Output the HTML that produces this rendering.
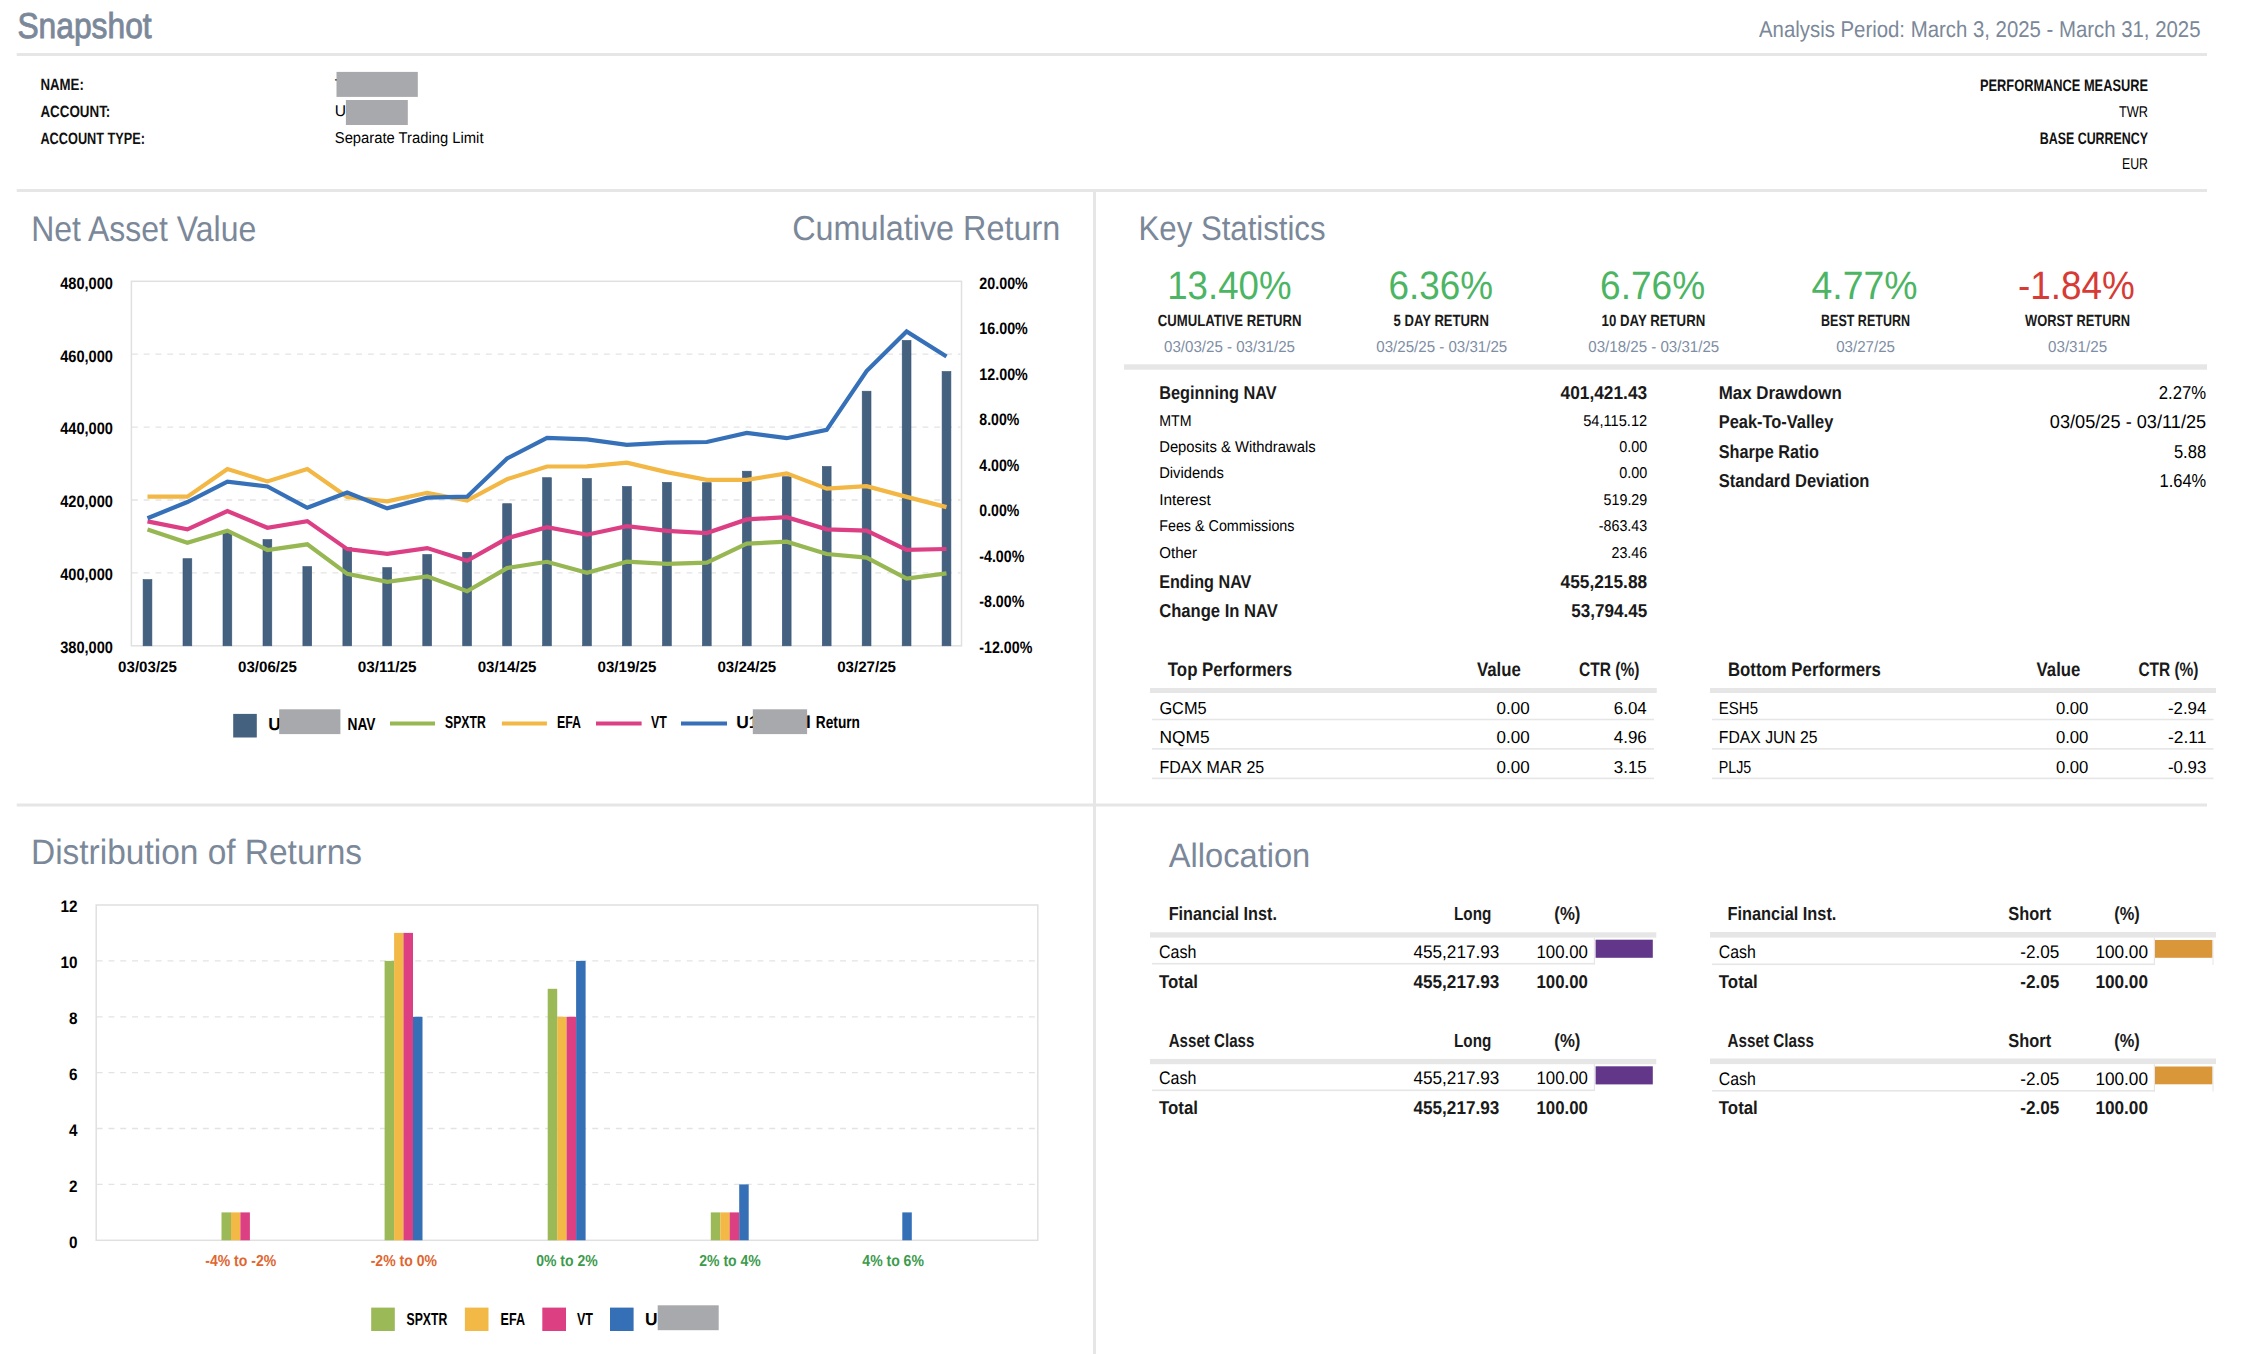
<!DOCTYPE html>
<html><head><meta charset="utf-8"><title>Snapshot</title>
<style>
html,body{margin:0;padding:0;background:#fff;}
body{width:2254px;height:1354px;overflow:hidden;}
svg{display:block;font-family:"Liberation Sans", Arial, sans-serif;}
</style></head><body>
<svg width="2254" height="1354" viewBox="0 0 2254 1354" text-rendering="geometricPrecision">
<rect width="2254" height="1354" fill="#fff"/>
<text x="17.4" y="37.8" font-size="35.94" fill="#7b8899" textLength="134.3" lengthAdjust="spacingAndGlyphs" stroke="#7b8899" stroke-width="0.9">Snapshot</text>
<text x="2200.5" y="37.3" font-size="22.75" fill="#7b8899" text-anchor="end" textLength="441.5" lengthAdjust="spacingAndGlyphs">Analysis Period: March 3, 2025 - March 31, 2025</text>
<rect x="16.7" y="53.0" width="2190.3" height="3.0" fill="#e6e6e6"/>
<text x="40.4" y="90.4" font-size="16.38" font-weight="bold" fill="#111" textLength="43.4" lengthAdjust="spacingAndGlyphs">NAME:</text>
<text x="40.4" y="116.7" font-size="16.38" font-weight="bold" fill="#111" textLength="69.9" lengthAdjust="spacingAndGlyphs">ACCOUNT:</text>
<text x="40.4" y="143.7" font-size="16.38" font-weight="bold" fill="#111" textLength="104.7" lengthAdjust="spacingAndGlyphs">ACCOUNT TYPE:</text>
<text x="334.8" y="89.7" font-size="15.65">T</text>
<rect x="336.5" y="71.9" width="81.3" height="25.0" fill="#a8a9ad"/>
<text x="334.8" y="116.0" font-size="15.65">U</text>
<rect x="345.9" y="100.0" width="61.9" height="25.0" fill="#a8a9ad"/>
<text x="334.8" y="143.0" font-size="15.65" textLength="148.7" lengthAdjust="spacingAndGlyphs">Separate Trading Limit</text>
<text x="2148.0" y="90.6" font-size="16.67" font-weight="bold" fill="#111" text-anchor="end" textLength="168.0" lengthAdjust="spacingAndGlyphs">PERFORMANCE MEASURE</text>
<text x="2148.0" y="117.0" font-size="15.65" text-anchor="end" textLength="29.0" lengthAdjust="spacingAndGlyphs">TWR</text>
<text x="2148.0" y="143.5" font-size="16.67" font-weight="bold" fill="#111" text-anchor="end" textLength="108.2" lengthAdjust="spacingAndGlyphs">BASE CURRENCY</text>
<text x="2148.0" y="169.0" font-size="15.65" text-anchor="end" textLength="26.0" lengthAdjust="spacingAndGlyphs">EUR</text>
<rect x="16.7" y="189.0" width="2190.3" height="3.0" fill="#e6e6e6"/>
<rect x="1093.0" y="190.0" width="3.0" height="1164.0" fill="#e6e6e6"/>
<rect x="16.7" y="803.5" width="2190.3" height="3.0" fill="#e6e6e6"/>
<text x="31.2" y="240.9" font-size="35.51" fill="#7b8899" textLength="225.0" lengthAdjust="spacingAndGlyphs">Net Asset Value</text>
<text x="1060.2" y="239.9" font-size="34.78" fill="#7b8899" text-anchor="end" textLength="268.0" lengthAdjust="spacingAndGlyphs">Cumulative Return</text>
<rect x="131.4" y="281.3" width="830.1" height="364.49999999999994" fill="none" stroke="#e0e0e0" stroke-width="1.5"/>
<line x1="131.9" y1="354.2" x2="960.5" y2="354.2" stroke="#e3e3e3" stroke-width="1.3" stroke-dasharray="5.9,5.9"/>
<line x1="131.9" y1="427.1" x2="960.5" y2="427.1" stroke="#e3e3e3" stroke-width="1.3" stroke-dasharray="5.9,5.9"/>
<line x1="131.9" y1="500.0" x2="960.5" y2="500.0" stroke="#e3e3e3" stroke-width="1.3" stroke-dasharray="5.9,5.9"/>
<line x1="131.9" y1="572.9" x2="960.5" y2="572.9" stroke="#e3e3e3" stroke-width="1.3" stroke-dasharray="5.9,5.9"/>
<text x="113.0" y="288.6" font-size="16.67" font-weight="bold" fill="#000" text-anchor="end" textLength="52.8" lengthAdjust="spacingAndGlyphs">480,000</text>
<text x="113.0" y="361.5" font-size="16.67" font-weight="bold" fill="#000" text-anchor="end" textLength="52.8" lengthAdjust="spacingAndGlyphs">460,000</text>
<text x="113.0" y="434.4" font-size="16.67" font-weight="bold" fill="#000" text-anchor="end" textLength="52.8" lengthAdjust="spacingAndGlyphs">440,000</text>
<text x="113.0" y="507.3" font-size="16.67" font-weight="bold" fill="#000" text-anchor="end" textLength="52.8" lengthAdjust="spacingAndGlyphs">420,000</text>
<text x="113.0" y="580.2" font-size="16.67" font-weight="bold" fill="#000" text-anchor="end" textLength="52.8" lengthAdjust="spacingAndGlyphs">400,000</text>
<text x="113.0" y="653.1" font-size="16.67" font-weight="bold" fill="#000" text-anchor="end" textLength="52.8" lengthAdjust="spacingAndGlyphs">380,000</text>
<text x="979.3" y="288.5" font-size="16.67" font-weight="bold" fill="#000" textLength="48.5" lengthAdjust="spacingAndGlyphs">20.00%</text>
<text x="979.3" y="334.1" font-size="16.67" font-weight="bold" fill="#000" textLength="48.5" lengthAdjust="spacingAndGlyphs">16.00%</text>
<text x="979.3" y="379.6" font-size="16.67" font-weight="bold" fill="#000" textLength="48.5" lengthAdjust="spacingAndGlyphs">12.00%</text>
<text x="979.3" y="425.2" font-size="16.67" font-weight="bold" fill="#000" textLength="40.0" lengthAdjust="spacingAndGlyphs">8.00%</text>
<text x="979.3" y="470.7" font-size="16.67" font-weight="bold" fill="#000" textLength="40.0" lengthAdjust="spacingAndGlyphs">4.00%</text>
<text x="979.3" y="516.3" font-size="16.67" font-weight="bold" fill="#000" textLength="40.0" lengthAdjust="spacingAndGlyphs">0.00%</text>
<text x="979.3" y="561.9" font-size="16.67" font-weight="bold" fill="#000" textLength="45.0" lengthAdjust="spacingAndGlyphs">-4.00%</text>
<text x="979.3" y="607.4" font-size="16.67" font-weight="bold" fill="#000" textLength="45.0" lengthAdjust="spacingAndGlyphs">-8.00%</text>
<text x="979.3" y="653.0" font-size="16.67" font-weight="bold" fill="#000" textLength="53.0" lengthAdjust="spacingAndGlyphs">-12.00%</text>
<rect x="143.1" y="579.6" width="8.8" height="66.2" fill="#44617f" stroke="#3b5677" stroke-width="0.6"/>
<rect x="183.0" y="558.7" width="8.8" height="87.1" fill="#44617f" stroke="#3b5677" stroke-width="0.6"/>
<rect x="223.0" y="532.3" width="8.8" height="113.5" fill="#44617f" stroke="#3b5677" stroke-width="0.6"/>
<rect x="263.0" y="539.6" width="8.8" height="106.2" fill="#44617f" stroke="#3b5677" stroke-width="0.6"/>
<rect x="302.9" y="566.6" width="8.8" height="79.2" fill="#44617f" stroke="#3b5677" stroke-width="0.6"/>
<rect x="342.9" y="547.6" width="8.8" height="98.2" fill="#44617f" stroke="#3b5677" stroke-width="0.6"/>
<rect x="382.8" y="567.6" width="8.8" height="78.2" fill="#44617f" stroke="#3b5677" stroke-width="0.6"/>
<rect x="422.8" y="554.5" width="8.8" height="91.3" fill="#44617f" stroke="#3b5677" stroke-width="0.6"/>
<rect x="462.7" y="552.3" width="8.8" height="93.5" fill="#44617f" stroke="#3b5677" stroke-width="0.6"/>
<rect x="502.7" y="503.7" width="8.8" height="142.1" fill="#44617f" stroke="#3b5677" stroke-width="0.6"/>
<rect x="542.6" y="477.7" width="8.8" height="168.1" fill="#44617f" stroke="#3b5677" stroke-width="0.6"/>
<rect x="582.6" y="478.5" width="8.8" height="167.3" fill="#44617f" stroke="#3b5677" stroke-width="0.6"/>
<rect x="622.5" y="486.5" width="8.8" height="159.3" fill="#44617f" stroke="#3b5677" stroke-width="0.6"/>
<rect x="662.5" y="482.4" width="8.8" height="163.4" fill="#44617f" stroke="#3b5677" stroke-width="0.6"/>
<rect x="702.4" y="482.7" width="8.8" height="163.1" fill="#44617f" stroke="#3b5677" stroke-width="0.6"/>
<rect x="742.4" y="471.2" width="8.8" height="174.6" fill="#44617f" stroke="#3b5677" stroke-width="0.6"/>
<rect x="782.3" y="476.7" width="8.8" height="169.1" fill="#44617f" stroke="#3b5677" stroke-width="0.6"/>
<rect x="822.3" y="466.5" width="8.8" height="179.3" fill="#44617f" stroke="#3b5677" stroke-width="0.6"/>
<rect x="862.2" y="391.2" width="8.8" height="254.6" fill="#44617f" stroke="#3b5677" stroke-width="0.6"/>
<rect x="902.2" y="340.4" width="8.8" height="305.4" fill="#44617f" stroke="#3b5677" stroke-width="0.6"/>
<rect x="942.1" y="371.5" width="8.8" height="274.3" fill="#44617f" stroke="#3b5677" stroke-width="0.6"/>
<polyline points="147.5,529.4 187.4,542.7 227.4,530.7 267.4,550.0 307.3,544.3 347.2,573.9 387.2,581.8 427.2,576.4 467.1,591.3 507.1,568.1 547.0,561.8 587.0,572.8 626.9,561.7 666.9,563.9 706.8,562.6 746.8,543.6 786.7,541.7 826.7,554.0 866.6,557.6 906.6,578.5 946.5,573.4" fill="none" stroke="#97b753" stroke-width="4.2" stroke-linejoin="miter" stroke-miterlimit="4" stroke-linecap="butt"/>
<polyline points="147.5,496.7 187.4,496.7 227.4,469.0 267.4,481.4 307.3,469.0 347.2,497.0 387.2,501.4 427.2,492.8 467.1,500.5 507.1,479.2 547.0,466.5 587.0,466.4 626.9,462.6 666.9,472.1 706.8,479.8 746.8,479.8 786.7,473.4 826.7,488.6 866.6,486.1 906.6,496.9 946.5,507.1" fill="none" stroke="#f2b744" stroke-width="4.2" stroke-linejoin="miter" stroke-miterlimit="4" stroke-linecap="butt"/>
<polyline points="147.5,521.4 187.4,529.4 227.4,511.0 267.4,527.8 307.3,521.1 347.2,549.1 387.2,553.8 427.2,548.1 467.1,560.8 507.1,538.3 547.0,527.2 587.0,534.7 626.9,526.1 666.9,530.9 706.8,533.1 746.8,519.4 786.7,517.2 826.7,529.3 866.6,530.6 906.6,549.9 946.5,549.0" fill="none" stroke="#dc3f84" stroke-width="4.2" stroke-linejoin="miter" stroke-miterlimit="4" stroke-linecap="butt"/>
<polyline points="147.5,518.3 187.4,502.0 227.4,481.7 267.4,486.5 307.3,507.8 347.2,492.5 387.2,508.4 427.2,497.6 467.1,496.7 507.1,458.5 547.0,437.9 587.0,439.4 626.9,444.8 666.9,442.6 706.8,442.0 746.8,433.0 786.7,438.2 826.7,429.9 866.6,371.1 906.6,331.5 946.5,356.5" fill="none" stroke="#3570b8" stroke-width="4.2" stroke-linejoin="miter" stroke-miterlimit="4" stroke-linecap="butt"/>
<text x="147.5" y="672.3" font-size="15.22" font-weight="bold" fill="#000" text-anchor="middle" textLength="58.8" lengthAdjust="spacingAndGlyphs">03/03/25</text>
<text x="267.4" y="672.3" font-size="15.22" font-weight="bold" fill="#000" text-anchor="middle" textLength="58.8" lengthAdjust="spacingAndGlyphs">03/06/25</text>
<text x="387.2" y="672.3" font-size="15.22" font-weight="bold" fill="#000" text-anchor="middle" textLength="58.8" lengthAdjust="spacingAndGlyphs">03/11/25</text>
<text x="507.1" y="672.3" font-size="15.22" font-weight="bold" fill="#000" text-anchor="middle" textLength="58.8" lengthAdjust="spacingAndGlyphs">03/14/25</text>
<text x="626.9" y="672.3" font-size="15.22" font-weight="bold" fill="#000" text-anchor="middle" textLength="58.8" lengthAdjust="spacingAndGlyphs">03/19/25</text>
<text x="746.8" y="672.3" font-size="15.22" font-weight="bold" fill="#000" text-anchor="middle" textLength="58.8" lengthAdjust="spacingAndGlyphs">03/24/25</text>
<text x="866.6" y="672.3" font-size="15.22" font-weight="bold" fill="#000" text-anchor="middle" textLength="58.8" lengthAdjust="spacingAndGlyphs">03/27/25</text>
<rect x="233.2" y="713.9" width="23.6" height="23.6" fill="#44617f"/>
<text x="268.3" y="730.0" font-size="17.39" font-weight="bold" fill="#000">U1</text>
<rect x="279.2" y="709.3" width="61.2" height="24.8" fill="#a8a9ad"/>
<text x="347.5" y="730.0" font-size="17.39" font-weight="bold" fill="#000" textLength="28.0" lengthAdjust="spacingAndGlyphs">NAV</text>
<rect x="390.0" y="721.5" width="45.0" height="4.0" fill="#97b753"/>
<text x="445.0" y="728.3" font-size="17.39" font-weight="bold" fill="#000" textLength="40.7" lengthAdjust="spacingAndGlyphs">SPXTR</text>
<rect x="501.9" y="721.5" width="45.0" height="4.0" fill="#f2b744"/>
<text x="557.0" y="728.3" font-size="17.39" font-weight="bold" fill="#000" textLength="24.0" lengthAdjust="spacingAndGlyphs">EFA</text>
<rect x="596.0" y="721.5" width="45.6" height="4.0" fill="#dc3f84"/>
<text x="651.0" y="728.3" font-size="17.39" font-weight="bold" fill="#000" textLength="15.8" lengthAdjust="spacingAndGlyphs">VT</text>
<rect x="681.0" y="721.5" width="46.0" height="4.0" fill="#3570b8"/>
<text x="736.3" y="728.3" font-size="17.39" font-weight="bold" fill="#000">U1</text>
<rect x="752.8" y="709.3" width="54.3" height="24.8" fill="#a8a9ad"/>
<text x="806.0" y="728.3" font-size="17.39" font-weight="bold" fill="#000">l</text>
<text x="815.8" y="728.3" font-size="17.39" font-weight="bold" fill="#000" textLength="44.2" lengthAdjust="spacingAndGlyphs">Return</text>
<text x="1138.6" y="240.0" font-size="34.20" fill="#7b8899" textLength="186.9" lengthAdjust="spacingAndGlyphs">Key Statistics</text>
<text x="1167.2" y="299.0" font-size="39.71" fill="#4cb564" textLength="124.3" lengthAdjust="spacingAndGlyphs">13.40%</text>
<text x="1157.8" y="326.2" font-size="16.23" font-weight="bold" fill="#1a1a1a" textLength="143.7" lengthAdjust="spacingAndGlyphs">CUMULATIVE RETURN</text>
<text x="1164.0" y="351.7" font-size="15.80" fill="#7d8da3" textLength="131.0" lengthAdjust="spacingAndGlyphs">03/03/25 - 03/31/25</text>
<text x="1388.6" y="299.0" font-size="39.71" fill="#4cb564" textLength="104.5" lengthAdjust="spacingAndGlyphs">6.36%</text>
<text x="1393.6" y="326.2" font-size="16.23" font-weight="bold" fill="#1a1a1a" textLength="95.4" lengthAdjust="spacingAndGlyphs">5 DAY RETURN</text>
<text x="1376.3" y="351.7" font-size="15.80" fill="#7d8da3" textLength="130.9" lengthAdjust="spacingAndGlyphs">03/25/25 - 03/31/25</text>
<text x="1600.1" y="299.0" font-size="39.71" fill="#4cb564" textLength="105.1" lengthAdjust="spacingAndGlyphs">6.76%</text>
<text x="1601.6" y="326.2" font-size="16.23" font-weight="bold" fill="#1a1a1a" textLength="103.7" lengthAdjust="spacingAndGlyphs">10 DAY RETURN</text>
<text x="1588.3" y="351.7" font-size="15.80" fill="#7d8da3" textLength="130.9" lengthAdjust="spacingAndGlyphs">03/18/25 - 03/31/25</text>
<text x="1811.5" y="299.0" font-size="39.71" fill="#4cb564" textLength="106.1" lengthAdjust="spacingAndGlyphs">4.77%</text>
<text x="1821.0" y="326.2" font-size="16.23" font-weight="bold" fill="#1a1a1a" textLength="89.0" lengthAdjust="spacingAndGlyphs">BEST RETURN</text>
<text x="1836.2" y="351.7" font-size="15.80" fill="#7d8da3" textLength="58.8" lengthAdjust="spacingAndGlyphs">03/27/25</text>
<text x="2017.9" y="299.0" font-size="39.71" fill="#d63b35" textLength="116.8" lengthAdjust="spacingAndGlyphs">-1.84%</text>
<text x="2025.0" y="326.2" font-size="16.23" font-weight="bold" fill="#1a1a1a" textLength="105.0" lengthAdjust="spacingAndGlyphs">WORST RETURN</text>
<text x="2048.0" y="351.7" font-size="15.80" fill="#7d8da3" textLength="59.1" lengthAdjust="spacingAndGlyphs">03/31/25</text>
<rect x="1124.0" y="364.3" width="1083.0" height="5.4" fill="#e6e6e6"/>
<text x="1159.2" y="399.2" font-size="18.70" font-weight="bold" fill="#1a1a1a" textLength="117.4" lengthAdjust="spacingAndGlyphs">Beginning NAV</text>
<text x="1647.2" y="399.2" font-size="18.70" font-weight="bold" fill="#1a1a1a" text-anchor="end" textLength="86.7" lengthAdjust="spacingAndGlyphs">401,421.43</text>
<text x="1159.2" y="426.3" font-size="15.65" textLength="32.3" lengthAdjust="spacingAndGlyphs">MTM</text>
<text x="1647.2" y="426.3" font-size="15.65" text-anchor="end" textLength="64.0" lengthAdjust="spacingAndGlyphs">54,115.12</text>
<text x="1159.2" y="452.2" font-size="15.65" textLength="156.4" lengthAdjust="spacingAndGlyphs">Deposits &amp; Withdrawals</text>
<text x="1647.2" y="452.2" font-size="15.65" text-anchor="end" textLength="28.0" lengthAdjust="spacingAndGlyphs">0.00</text>
<text x="1159.2" y="477.8" font-size="15.65" textLength="64.7" lengthAdjust="spacingAndGlyphs">Dividends</text>
<text x="1647.2" y="477.8" font-size="15.65" text-anchor="end" textLength="28.0" lengthAdjust="spacingAndGlyphs">0.00</text>
<text x="1159.2" y="504.9" font-size="15.65" textLength="51.5" lengthAdjust="spacingAndGlyphs">Interest</text>
<text x="1647.2" y="504.9" font-size="15.65" text-anchor="end" textLength="43.6" lengthAdjust="spacingAndGlyphs">519.29</text>
<text x="1159.2" y="531.0" font-size="15.65" textLength="135.3" lengthAdjust="spacingAndGlyphs">Fees &amp; Commissions</text>
<text x="1647.2" y="531.0" font-size="15.65" text-anchor="end" textLength="48.4" lengthAdjust="spacingAndGlyphs">-863.43</text>
<text x="1159.2" y="557.8" font-size="15.65" textLength="37.8" lengthAdjust="spacingAndGlyphs">Other</text>
<text x="1647.2" y="557.8" font-size="15.65" text-anchor="end" textLength="35.7" lengthAdjust="spacingAndGlyphs">23.46</text>
<text x="1159.2" y="587.5" font-size="18.70" font-weight="bold" fill="#1a1a1a" textLength="92.2" lengthAdjust="spacingAndGlyphs">Ending NAV</text>
<text x="1647.2" y="587.5" font-size="18.70" font-weight="bold" fill="#1a1a1a" text-anchor="end" textLength="86.7" lengthAdjust="spacingAndGlyphs">455,215.88</text>
<text x="1159.2" y="616.8" font-size="18.70" font-weight="bold" fill="#1a1a1a" textLength="118.6" lengthAdjust="spacingAndGlyphs">Change In NAV</text>
<text x="1647.2" y="616.8" font-size="18.70" font-weight="bold" fill="#1a1a1a" text-anchor="end" textLength="76.0" lengthAdjust="spacingAndGlyphs">53,794.45</text>
<text x="1718.7" y="399.2" font-size="18.70" font-weight="bold" fill="#1a1a1a" textLength="123.1" lengthAdjust="spacingAndGlyphs">Max Drawdown</text>
<text x="2206.2" y="399.2" font-size="18.70" text-anchor="end" textLength="47.4" lengthAdjust="spacingAndGlyphs">2.27%</text>
<text x="1718.7" y="428.2" font-size="18.70" font-weight="bold" fill="#1a1a1a" textLength="114.7" lengthAdjust="spacingAndGlyphs">Peak-To-Valley</text>
<text x="2206.2" y="428.2" font-size="18.70" text-anchor="end" textLength="156.4" lengthAdjust="spacingAndGlyphs">03/05/25 - 03/11/25</text>
<text x="1718.7" y="457.7" font-size="18.70" font-weight="bold" fill="#1a1a1a" textLength="100.3" lengthAdjust="spacingAndGlyphs">Sharpe Ratio</text>
<text x="2206.2" y="457.7" font-size="18.70" text-anchor="end" textLength="32.3" lengthAdjust="spacingAndGlyphs">5.88</text>
<text x="1718.7" y="487.2" font-size="18.70" font-weight="bold" fill="#1a1a1a" textLength="150.7" lengthAdjust="spacingAndGlyphs">Standard Deviation</text>
<text x="2206.2" y="487.2" font-size="18.70" text-anchor="end" textLength="46.7" lengthAdjust="spacingAndGlyphs">1.64%</text>
<text x="1167.8" y="676.0" font-size="19.57" font-weight="bold" fill="#1a1a1a" textLength="124.2" lengthAdjust="spacingAndGlyphs">Top Performers</text>
<text x="1477.0" y="676.0" font-size="19.57" font-weight="bold" fill="#1a1a1a" textLength="43.9" lengthAdjust="spacingAndGlyphs">Value</text>
<text x="1579.0" y="676.0" font-size="19.57" font-weight="bold" fill="#1a1a1a" textLength="60.4" lengthAdjust="spacingAndGlyphs">CTR (%)</text>
<rect x="1150.0" y="688.0" width="506.8" height="5.0" fill="#e6e6e6"/>
<text x="1159.4" y="714.2" font-size="17.39" textLength="47.2" lengthAdjust="spacingAndGlyphs">GCM5</text>
<text x="1529.6" y="714.2" font-size="17.39" text-anchor="end" textLength="33.1" lengthAdjust="spacingAndGlyphs">0.00</text>
<text x="1646.8" y="714.2" font-size="17.39" text-anchor="end" textLength="33.0" lengthAdjust="spacingAndGlyphs">6.04</text>
<rect x="1152.0" y="718.7" width="502.0" height="1.6" fill="#e6e6e6"/>
<text x="1159.4" y="742.8" font-size="17.39" textLength="50.2" lengthAdjust="spacingAndGlyphs">NQM5</text>
<text x="1529.6" y="742.8" font-size="17.39" text-anchor="end" textLength="33.1" lengthAdjust="spacingAndGlyphs">0.00</text>
<text x="1646.8" y="742.8" font-size="17.39" text-anchor="end" textLength="33.0" lengthAdjust="spacingAndGlyphs">4.96</text>
<rect x="1152.0" y="748.1" width="502.0" height="1.6" fill="#e6e6e6"/>
<text x="1159.4" y="772.5" font-size="17.39" textLength="104.8" lengthAdjust="spacingAndGlyphs">FDAX MAR 25</text>
<text x="1529.6" y="772.5" font-size="17.39" text-anchor="end" textLength="33.1" lengthAdjust="spacingAndGlyphs">0.00</text>
<text x="1646.8" y="772.5" font-size="17.39" text-anchor="end" textLength="33.0" lengthAdjust="spacingAndGlyphs">3.15</text>
<rect x="1152.0" y="777.6" width="502.0" height="1.6" fill="#e6e6e6"/>
<text x="1728.0" y="676.2" font-size="19.57" font-weight="bold" fill="#1a1a1a" textLength="152.9" lengthAdjust="spacingAndGlyphs">Bottom Performers</text>
<text x="2036.6" y="676.2" font-size="19.57" font-weight="bold" fill="#1a1a1a" textLength="43.8" lengthAdjust="spacingAndGlyphs">Value</text>
<text x="2138.4" y="676.2" font-size="19.57" font-weight="bold" fill="#1a1a1a" textLength="60.1" lengthAdjust="spacingAndGlyphs">CTR (%)</text>
<rect x="1710.0" y="688.0" width="506.0" height="5.0" fill="#e6e6e6"/>
<text x="1718.8" y="714.2" font-size="17.39" textLength="39.2" lengthAdjust="spacingAndGlyphs">ESH5</text>
<text x="2088.4" y="714.2" font-size="17.39" text-anchor="end" textLength="32.5" lengthAdjust="spacingAndGlyphs">0.00</text>
<text x="2206.3" y="714.2" font-size="17.39" text-anchor="end" textLength="38.3" lengthAdjust="spacingAndGlyphs">-2.94</text>
<rect x="1712.0" y="718.7" width="501.5" height="1.6" fill="#e6e6e6"/>
<text x="1718.8" y="742.8" font-size="17.39" textLength="98.8" lengthAdjust="spacingAndGlyphs">FDAX JUN 25</text>
<text x="2088.4" y="742.8" font-size="17.39" text-anchor="end" textLength="32.5" lengthAdjust="spacingAndGlyphs">0.00</text>
<text x="2206.3" y="742.8" font-size="17.39" text-anchor="end" textLength="38.3" lengthAdjust="spacingAndGlyphs">-2.11</text>
<rect x="1712.0" y="748.1" width="501.5" height="1.6" fill="#e6e6e6"/>
<text x="1718.8" y="772.5" font-size="17.39" textLength="32.5" lengthAdjust="spacingAndGlyphs">PLJ5</text>
<text x="2088.4" y="772.5" font-size="17.39" text-anchor="end" textLength="32.5" lengthAdjust="spacingAndGlyphs">0.00</text>
<text x="2206.3" y="772.5" font-size="17.39" text-anchor="end" textLength="38.3" lengthAdjust="spacingAndGlyphs">-0.93</text>
<rect x="1712.0" y="777.6" width="501.5" height="1.6" fill="#e6e6e6"/>
<text x="31.0" y="864.0" font-size="35.22" fill="#7b8899" textLength="331.0" lengthAdjust="spacingAndGlyphs">Distribution of Returns</text>
<rect x="96.2" y="905" width="941.5999999999999" height="335.29999999999995" fill="none" stroke="#e0e0e0" stroke-width="1.5"/>
<line x1="96.7" y1="960.9" x2="1036.8" y2="960.9" stroke="#e3e3e3" stroke-width="1.3" stroke-dasharray="5.9,5.9"/>
<line x1="96.7" y1="1016.8" x2="1036.8" y2="1016.8" stroke="#e3e3e3" stroke-width="1.3" stroke-dasharray="5.9,5.9"/>
<line x1="96.7" y1="1072.7" x2="1036.8" y2="1072.7" stroke="#e3e3e3" stroke-width="1.3" stroke-dasharray="5.9,5.9"/>
<line x1="96.7" y1="1128.5" x2="1036.8" y2="1128.5" stroke="#e3e3e3" stroke-width="1.3" stroke-dasharray="5.9,5.9"/>
<line x1="96.7" y1="1184.4" x2="1036.8" y2="1184.4" stroke="#e3e3e3" stroke-width="1.3" stroke-dasharray="5.9,5.9"/>
<text x="77.5" y="912.4" font-size="16.67" font-weight="bold" fill="#000" text-anchor="end" textLength="17.0" lengthAdjust="spacingAndGlyphs">12</text>
<text x="77.5" y="968.3" font-size="16.67" font-weight="bold" fill="#000" text-anchor="end" textLength="17.0" lengthAdjust="spacingAndGlyphs">10</text>
<text x="77.5" y="1024.2" font-size="16.67" font-weight="bold" fill="#000" text-anchor="end" textLength="8.5" lengthAdjust="spacingAndGlyphs">8</text>
<text x="77.5" y="1080.1" font-size="16.67" font-weight="bold" fill="#000" text-anchor="end" textLength="8.5" lengthAdjust="spacingAndGlyphs">6</text>
<text x="77.5" y="1135.9" font-size="16.67" font-weight="bold" fill="#000" text-anchor="end" textLength="8.5" lengthAdjust="spacingAndGlyphs">4</text>
<text x="77.5" y="1191.8" font-size="16.67" font-weight="bold" fill="#000" text-anchor="end" textLength="8.5" lengthAdjust="spacingAndGlyphs">2</text>
<text x="77.5" y="1247.7" font-size="16.67" font-weight="bold" fill="#000" text-anchor="end" textLength="8.5" lengthAdjust="spacingAndGlyphs">0</text>
<rect x="221.5" y="1212.4" width="9.5" height="27.9" fill="#9bb957"/>
<rect x="231.0" y="1212.4" width="9.5" height="27.9" fill="#f2b946"/>
<rect x="240.4" y="1212.4" width="9.5" height="27.9" fill="#dc4082"/>
<rect x="384.6" y="960.9" width="9.5" height="279.4" fill="#9bb957"/>
<rect x="394.1" y="932.9" width="9.5" height="307.4" fill="#f2b946"/>
<rect x="403.5" y="932.9" width="9.5" height="307.4" fill="#dc4082"/>
<rect x="413.0" y="1016.8" width="9.5" height="223.5" fill="#3570b7"/>
<rect x="547.7" y="988.8" width="9.5" height="251.5" fill="#9bb957"/>
<rect x="557.2" y="1016.8" width="9.5" height="223.5" fill="#f2b946"/>
<rect x="566.6" y="1016.8" width="9.5" height="223.5" fill="#dc4082"/>
<rect x="576.1" y="960.9" width="9.5" height="279.4" fill="#3570b7"/>
<rect x="710.8" y="1212.4" width="9.5" height="27.9" fill="#9bb957"/>
<rect x="720.3" y="1212.4" width="9.5" height="27.9" fill="#f2b946"/>
<rect x="729.7" y="1212.4" width="9.5" height="27.9" fill="#dc4082"/>
<rect x="739.2" y="1184.4" width="9.5" height="55.9" fill="#3570b7"/>
<rect x="902.3" y="1212.4" width="9.5" height="27.9" fill="#3570b7"/>
<text x="240.7" y="1266.3" font-size="15.94" font-weight="bold" fill="#e0652f" text-anchor="middle" textLength="70.9" lengthAdjust="spacingAndGlyphs">-4% to -2%</text>
<text x="403.8" y="1266.3" font-size="15.94" font-weight="bold" fill="#e0652f" text-anchor="middle" textLength="66.2" lengthAdjust="spacingAndGlyphs">-2% to 0%</text>
<text x="566.9" y="1266.3" font-size="15.94" font-weight="bold" fill="#3c9a4c" text-anchor="middle" textLength="61.5" lengthAdjust="spacingAndGlyphs">0% to 2%</text>
<text x="730.0" y="1266.3" font-size="15.94" font-weight="bold" fill="#3c9a4c" text-anchor="middle" textLength="61.5" lengthAdjust="spacingAndGlyphs">2% to 4%</text>
<text x="893.1" y="1266.3" font-size="15.94" font-weight="bold" fill="#3c9a4c" text-anchor="middle" textLength="61.5" lengthAdjust="spacingAndGlyphs">4% to 6%</text>
<rect x="371.2" y="1307.6" width="23.6" height="23.4" fill="#9bb957"/>
<text x="406.5" y="1325.0" font-size="17.39" font-weight="bold" fill="#000" textLength="40.8" lengthAdjust="spacingAndGlyphs">SPXTR</text>
<rect x="464.9" y="1307.6" width="23.6" height="23.4" fill="#f2b946"/>
<text x="500.6" y="1325.0" font-size="17.39" font-weight="bold" fill="#000" textLength="24.4" lengthAdjust="spacingAndGlyphs">EFA</text>
<rect x="542.3" y="1307.6" width="23.7" height="23.4" fill="#dc4082"/>
<text x="577.0" y="1325.0" font-size="17.39" font-weight="bold" fill="#000" textLength="16.0" lengthAdjust="spacingAndGlyphs">VT</text>
<rect x="610.0" y="1307.6" width="23.6" height="23.4" fill="#3570b7"/>
<text x="645.0" y="1325.0" font-size="17.39" font-weight="bold" fill="#000">U1</text>
<rect x="657.7" y="1305.3" width="61.0" height="24.9" fill="#a8a9ad"/>
<text x="1168.7" y="867.0" font-size="33.77" fill="#7b8899" textLength="141.6" lengthAdjust="spacingAndGlyphs">Allocation</text>
<text x="1168.7" y="920.3" font-size="18.84" font-weight="bold" fill="#1a1a1a" textLength="108.3" lengthAdjust="spacingAndGlyphs">Financial Inst.</text>
<text x="1454.0" y="920.3" font-size="18.84" font-weight="bold" fill="#1a1a1a" textLength="37.3" lengthAdjust="spacingAndGlyphs">Long</text>
<text x="1554.3" y="920.3" font-size="18.84" font-weight="bold" fill="#1a1a1a" textLength="26.1" lengthAdjust="spacingAndGlyphs">(%)</text>
<rect x="1150.0" y="932.3" width="506.3" height="5.3" fill="#e6e6e6"/>
<text x="1159.0" y="957.8" font-size="18.26" textLength="37.4" lengthAdjust="spacingAndGlyphs">Cash</text>
<text x="1499.3" y="957.8" font-size="18.26" text-anchor="end" textLength="85.8" lengthAdjust="spacingAndGlyphs">455,217.93</text>
<text x="1587.9" y="957.8" font-size="18.26" text-anchor="end" textLength="51.4" lengthAdjust="spacingAndGlyphs">100.00</text>
<rect x="1595.6" y="939.7" width="57.2" height="18.1" fill="#623789"/>
<rect x="1152.0" y="962.9" width="443.0" height="1.6" fill="#e6e6e6"/>
<rect x="1593.8" y="937.6" width="1.2" height="26.9" fill="#e6e6e6"/>
<text x="1159.0" y="987.6" font-size="18.55" font-weight="bold" fill="#1a1a1a" textLength="39.0" lengthAdjust="spacingAndGlyphs">Total</text>
<text x="1499.3" y="987.6" font-size="18.55" font-weight="bold" fill="#1a1a1a" text-anchor="end" textLength="85.8" lengthAdjust="spacingAndGlyphs">455,217.93</text>
<text x="1587.9" y="987.6" font-size="18.55" font-weight="bold" fill="#1a1a1a" text-anchor="end" textLength="51.4" lengthAdjust="spacingAndGlyphs">100.00</text>
<text x="1168.7" y="1046.9" font-size="18.84" font-weight="bold" fill="#1a1a1a" textLength="85.7" lengthAdjust="spacingAndGlyphs">Asset Class</text>
<text x="1454.0" y="1046.9" font-size="18.84" font-weight="bold" fill="#1a1a1a" textLength="37.3" lengthAdjust="spacingAndGlyphs">Long</text>
<text x="1554.3" y="1046.9" font-size="18.84" font-weight="bold" fill="#1a1a1a" textLength="26.1" lengthAdjust="spacingAndGlyphs">(%)</text>
<rect x="1150.0" y="1058.9" width="506.3" height="5.3" fill="#e6e6e6"/>
<text x="1159.0" y="1084.4" font-size="18.26" textLength="37.4" lengthAdjust="spacingAndGlyphs">Cash</text>
<text x="1499.3" y="1084.4" font-size="18.26" text-anchor="end" textLength="85.8" lengthAdjust="spacingAndGlyphs">455,217.93</text>
<text x="1587.9" y="1084.4" font-size="18.26" text-anchor="end" textLength="51.4" lengthAdjust="spacingAndGlyphs">100.00</text>
<rect x="1595.6" y="1066.3" width="57.2" height="18.1" fill="#623789"/>
<rect x="1152.0" y="1089.5" width="443.0" height="1.6" fill="#e6e6e6"/>
<rect x="1593.8" y="1064.2" width="1.2" height="26.9" fill="#e6e6e6"/>
<text x="1159.0" y="1114.2" font-size="18.55" font-weight="bold" fill="#1a1a1a" textLength="39.0" lengthAdjust="spacingAndGlyphs">Total</text>
<text x="1499.3" y="1114.2" font-size="18.55" font-weight="bold" fill="#1a1a1a" text-anchor="end" textLength="85.8" lengthAdjust="spacingAndGlyphs">455,217.93</text>
<text x="1587.9" y="1114.2" font-size="18.55" font-weight="bold" fill="#1a1a1a" text-anchor="end" textLength="51.4" lengthAdjust="spacingAndGlyphs">100.00</text>
<text x="1727.5" y="920.0" font-size="18.84" font-weight="bold" fill="#1a1a1a" textLength="108.9" lengthAdjust="spacingAndGlyphs">Financial Inst.</text>
<text x="2008.3" y="920.0" font-size="18.84" font-weight="bold" fill="#1a1a1a" textLength="42.8" lengthAdjust="spacingAndGlyphs">Short</text>
<text x="2114.2" y="920.0" font-size="18.84" font-weight="bold" fill="#1a1a1a" textLength="25.5" lengthAdjust="spacingAndGlyphs">(%)</text>
<rect x="1710.0" y="932.0" width="506.0" height="5.6" fill="#e6e6e6"/>
<text x="1718.8" y="958.0" font-size="18.26" textLength="37.0" lengthAdjust="spacingAndGlyphs">Cash</text>
<text x="2059.4" y="958.0" font-size="18.26" text-anchor="end" textLength="39.1" lengthAdjust="spacingAndGlyphs">-2.05</text>
<text x="2148.0" y="958.0" font-size="18.26" text-anchor="end" textLength="52.6" lengthAdjust="spacingAndGlyphs">100.00</text>
<rect x="2155.0" y="940.0" width="57.5" height="17.8" fill="#d9973a"/>
<rect x="1712.0" y="963.5" width="443.0" height="1.6" fill="#e6e6e6"/>
<rect x="2153.8" y="937.6" width="1.2" height="27.5" fill="#e6e6e6"/>
<text x="1718.8" y="987.6" font-size="18.55" font-weight="bold" fill="#1a1a1a" textLength="39.0" lengthAdjust="spacingAndGlyphs">Total</text>
<text x="2059.4" y="987.6" font-size="18.55" font-weight="bold" fill="#1a1a1a" text-anchor="end" textLength="39.1" lengthAdjust="spacingAndGlyphs">-2.05</text>
<text x="2148.0" y="987.6" font-size="18.55" font-weight="bold" fill="#1a1a1a" text-anchor="end" textLength="52.6" lengthAdjust="spacingAndGlyphs">100.00</text>
<rect x="2212.5" y="940.0" width="1.0" height="25.0" fill="#e6e6e6"/>
<text x="1727.5" y="1046.5" font-size="18.84" font-weight="bold" fill="#1a1a1a" textLength="86.4" lengthAdjust="spacingAndGlyphs">Asset Class</text>
<text x="2008.3" y="1046.5" font-size="18.84" font-weight="bold" fill="#1a1a1a" textLength="42.8" lengthAdjust="spacingAndGlyphs">Short</text>
<text x="2114.2" y="1046.5" font-size="18.84" font-weight="bold" fill="#1a1a1a" textLength="25.5" lengthAdjust="spacingAndGlyphs">(%)</text>
<rect x="1710.0" y="1058.5" width="506.0" height="5.6" fill="#e6e6e6"/>
<text x="1718.8" y="1084.5" font-size="18.26" textLength="37.0" lengthAdjust="spacingAndGlyphs">Cash</text>
<text x="2059.4" y="1084.5" font-size="18.26" text-anchor="end" textLength="39.1" lengthAdjust="spacingAndGlyphs">-2.05</text>
<text x="2148.0" y="1084.5" font-size="18.26" text-anchor="end" textLength="52.6" lengthAdjust="spacingAndGlyphs">100.00</text>
<rect x="2155.0" y="1066.5" width="57.5" height="17.8" fill="#d9973a"/>
<rect x="1712.0" y="1090.0" width="443.0" height="1.6" fill="#e6e6e6"/>
<rect x="2153.8" y="1064.1" width="1.2" height="27.5" fill="#e6e6e6"/>
<text x="1718.8" y="1114.1" font-size="18.55" font-weight="bold" fill="#1a1a1a" textLength="39.0" lengthAdjust="spacingAndGlyphs">Total</text>
<text x="2059.4" y="1114.1" font-size="18.55" font-weight="bold" fill="#1a1a1a" text-anchor="end" textLength="39.1" lengthAdjust="spacingAndGlyphs">-2.05</text>
<text x="2148.0" y="1114.1" font-size="18.55" font-weight="bold" fill="#1a1a1a" text-anchor="end" textLength="52.6" lengthAdjust="spacingAndGlyphs">100.00</text>
<rect x="2212.5" y="1066.5" width="1.0" height="25.0" fill="#e6e6e6"/>
</svg>
</body></html>
